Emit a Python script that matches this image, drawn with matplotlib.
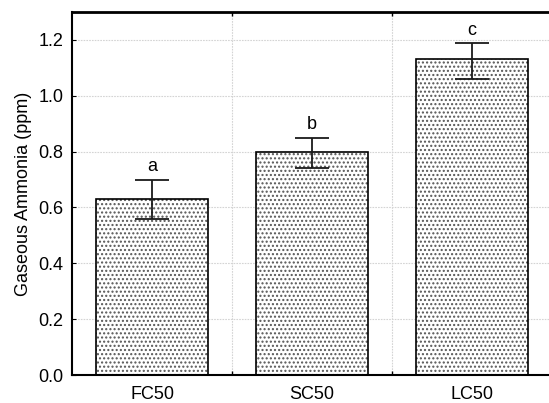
import matplotlib
matplotlib.use("Agg")
import matplotlib.pyplot as plt
import numpy as np

plt.rcParams['font.family'] = ['Liberation Sans', 'DejaVu Sans']
plt.rcParams['hatch.linewidth'] = 1.0

# veriler
gruplar = ["FC50", "SC50", "LC50"]
amonyak = [0.63, 0.80, 1.13]
hata_alt = [0.07, 0.06, 0.07]
hata_ust = [0.07, 0.05, 0.06]
harfler = ["a", "b", "c"]
y_ticks = [0.0, 0.2, 0.4, 0.6, 0.8, 1.0, 1.2]

fig = plt.figure(figsize=(5.49, 4.03), dpi=100)
ax = fig.add_axes([72/549, 28/403, 480/549, 363/403])

x = np.arange(len(gruplar))

# noktalı dolgu (gri), sonra siyah kenar
ax.bar(x, amonyak, width=0.7, color="white", edgecolor="#555555",
       hatch="....", linewidth=0, zorder=2)
ax.bar(x, amonyak, width=0.7, fill=False, edgecolor="black",
       linewidth=1.2, zorder=3)
ax.errorbar(x, amonyak, yerr=[hata_alt, hata_ust], fmt="none",
            ecolor="#1a1a1a", elinewidth=1.3, capsize=12, capthick=1.3,
            zorder=4)

for xi, yi, h, harf in zip(x, amonyak, hata_ust, harfler):
    ax.text(xi, yi + h + 0.015, harf, ha="center", va="bottom", fontsize=13)

ax.set_xlim(-0.5, 2.5)
ax.set_ylim(0, 1.3)
ax.set_yticks(y_ticks)
ax.set_yticklabels(["%.1f" % t for t in y_ticks])
ax.set_xticks(x)
ax.set_xticklabels(gruplar)
ax.set_xticks([0.5, 1.5], minor=True)
ax.tick_params(axis="x", which="major", length=0, pad=8, labelsize=13)
ax.tick_params(axis="x", which="minor", direction="in", length=3,
               top=True, bottom=True, width=1)
ax.tick_params(axis="y", direction="in", length=3, labelsize=13, pad=6)
ax.set_ylabel("Gaseous Ammonia (ppm)", fontsize=13, labelpad=5)

ax.grid(axis="y", which="major", color="#d4d4d4", linestyle=(0, (1.5, 1)),
        linewidth=0.8, zorder=0)
ax.grid(axis="x", which="minor", color="#d4d4d4", linestyle=(0, (1.5, 1)),
        linewidth=0.8, zorder=0)
ax.set_axisbelow(True)

ax.spines["top"].set_linewidth(2)
ax.spines["left"].set_linewidth(1.5)
ax.spines["bottom"].set_linewidth(1.5)
ax.spines["right"].set_visible(False)

fig.savefig("out.png", dpi=100)
